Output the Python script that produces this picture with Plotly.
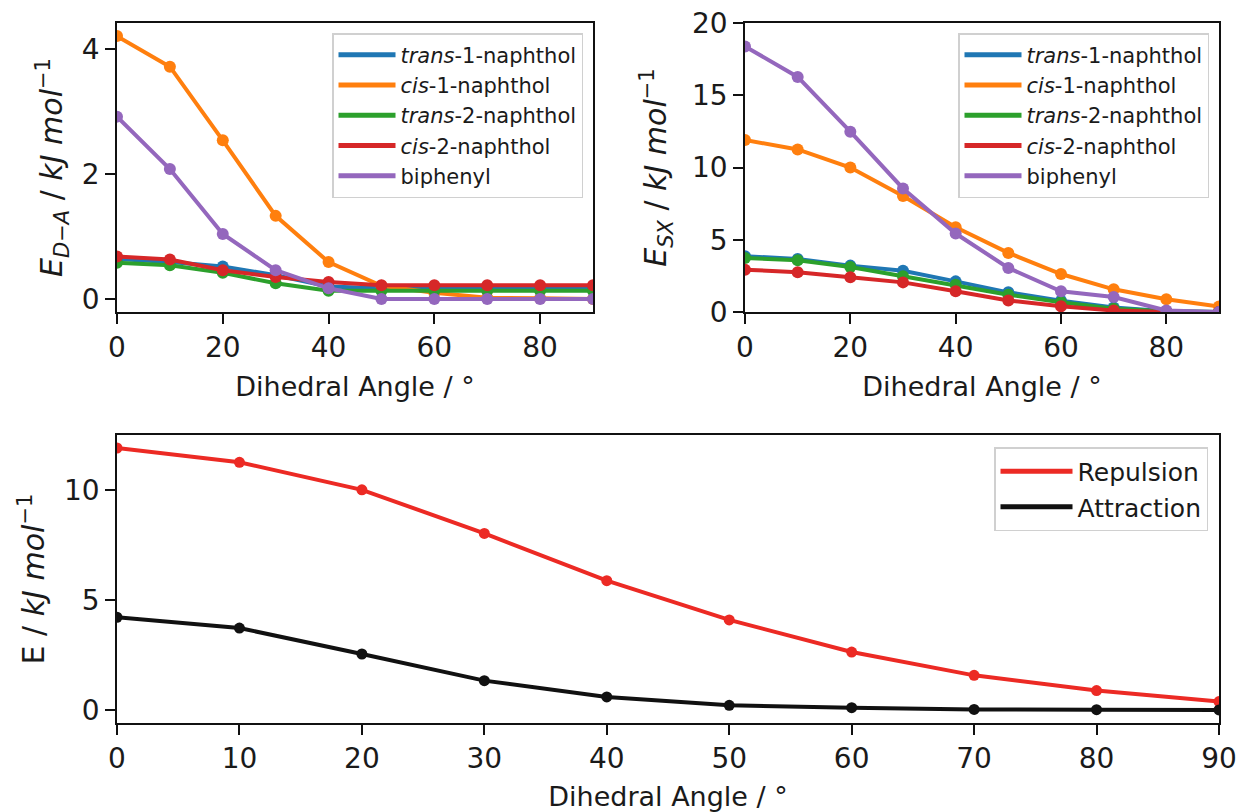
import plotly.graph_objects as go

# ---------------- data ----------------
angles = [0, 10, 20, 30, 40, 50, 60, 70, 80, 90]

series_names = ["<i>trans</i>-1-naphthol", "<i>cis</i>-1-naphthol",
                "<i>trans</i>-2-naphthol", "<i>cis</i>-2-naphthol", "biphenyl"]
series_colors = ["#1f77b4", "#ff7f0e", "#2ca02c", "#d62728", "#9467bd"]

# E_D-A (kJ/mol)
trans1_da = [0.64, 0.59, 0.52, 0.38, 0.20, 0.17, 0.17, 0.17, 0.17, 0.17]
cis1_da = [4.21, 3.72, 2.54, 1.33, 0.59, 0.21, 0.10, 0.02, 0.01, 0.00]
trans2_da = [0.58, 0.54, 0.42, 0.25, 0.13, 0.13, 0.13, 0.13, 0.13, 0.13]
cis2_da = [0.68, 0.63, 0.46, 0.35, 0.27, 0.22, 0.22, 0.22, 0.22, 0.22]
biphenyl_da = [2.92, 2.08, 1.04, 0.46, 0.17, 0.00, 0.00, 0.00, 0.00, 0.00]

# E_SX (kJ/mol)
trans1_sx = [3.86, 3.67, 3.21, 2.86, 2.12, 1.36, 0.78, 0.32, 0.05, 0.00]
cis1_sx = [11.90, 11.25, 10.00, 8.02, 5.87, 4.09, 2.63, 1.57, 0.88, 0.38]
trans2_sx = [3.74, 3.58, 3.12, 2.47, 1.89, 1.20, 0.67, 0.22, 0.05, 0.00]
cis2_sx = [2.93, 2.75, 2.40, 2.05, 1.43, 0.80, 0.39, 0.10, 0.00, 0.00]
biphenyl_sx = [18.38, 16.27, 12.48, 8.55, 5.43, 3.05, 1.43, 1.04, 0.10, 0.00]

# bottom panel (cis-1-naphthol decomposition)
repulsion = cis1_sx
attraction = cis1_da

da_series = [trans1_da, cis1_da, trans2_da, cis2_da, biphenyl_da]
sx_series = [trans1_sx, cis1_sx, trans2_sx, cis2_sx, biphenyl_sx]

# ---------------- figure ----------------
fig = go.Figure()


def add_series(xs, ys, name, col, xa, ya, leg, lw, ms):
    fig.add_trace(go.Scatter(x=xs, y=ys, mode="lines+markers", name=name,
                             line=dict(color=col, width=lw),
                             marker=dict(color=col, size=ms),
                             xaxis=xa, yaxis=ya, showlegend=False))
    # legend entry (line only, like matplotlib)
    fig.add_trace(go.Scatter(x=[None], y=[None], mode="lines", name=name,
                             line=dict(color=col, width=lw + 1),
                             xaxis=xa, yaxis=ya, legend=leg,
                             legendgroup=leg + name, showlegend=True))


for name, ys, col in zip(series_names, da_series, series_colors):
    add_series(angles, ys, name, col, "x", "y", "legend", 4, 12)
for name, ys, col in zip(series_names, sx_series, series_colors):
    add_series(angles, ys, name, col, "x2", "y2", "legend2", 4, 12)
add_series(angles, repulsion, "Repulsion", "#ec2a24", "x3", "y3", "legend3", 4, 11)
add_series(angles, attraction, "Attraction", "#111111", "x3", "y3", "legend3", 4, 11)

W, H = 1242, 812
TXT = "#1a1a1a"


def px_x(a, b):
    return [a / W, b / W]


def px_y(top, bottom):
    return [1 - bottom / H, 1 - top / H]


common_axis = dict(showline=True, mirror=True, linecolor="#111111", linewidth=1.6,
                   ticks="outside", ticklen=10, tickwidth=1.6, tickcolor="#111111",
                   showgrid=False, zeroline=False, automargin=False,
                   ticklabeloverflow="allow",
                   tickfont=dict(size=28, color=TXT))
xtitle = dict(text="Dihedral Angle / °", font=dict(size=27, color=TXT), standoff=14)

legend_common = dict(xanchor="right", yanchor="top", bgcolor="rgba(255,255,255,0.9)",
                     bordercolor="#d0d0d0", borderwidth=1.5, tracegroupgap=0)

YT = 30

fig.update_layout(
    width=W, height=H, margin=dict(l=0, r=0, t=0, b=0, autoexpand=False),
    paper_bgcolor="white", plot_bgcolor="white",
    font=dict(family="DejaVu Sans", color=TXT),
    xaxis=dict(domain=px_x(117, 593), range=[0, 90], tickvals=[0, 20, 40, 60, 80],
               anchor="y", title=xtitle, **common_axis),
    yaxis=dict(domain=px_y(23, 312), range=[-0.21, 4.42], tickvals=[0, 2, 4],
               anchor="x",
               title=dict(text="<i>E</i><sub><i>D</i>−<i>A</i></sub> / <i>kJ mol</i><sup>−1</sup>",
                          font=dict(size=YT, color=TXT), standoff=10),
               **common_axis),
    xaxis2=dict(domain=px_x(745, 1219), range=[0, 90], tickvals=[0, 20, 40, 60, 80],
                anchor="y2", title=xtitle, **common_axis),
    yaxis2=dict(domain=px_y(23, 312), range=[0, 20], tickvals=[0, 5, 10, 15, 20],
                anchor="x2",
                title=dict(text="<i>E</i><sub><i>SX</i></sub> / <i>kJ mol</i><sup>−1</sup>",
                           font=dict(size=YT, color=TXT), standoff=16),
                **common_axis),
    xaxis3=dict(domain=px_x(117, 1219), range=[0, 90],
                tickvals=[0, 10, 20, 30, 40, 50, 60, 70, 80, 90],
                anchor="y3", title=xtitle, **common_axis),
    yaxis3=dict(domain=px_y(435, 723), range=[-0.595, 12.49], tickvals=[0, 5, 10],
                anchor="x3",
                title=dict(text="E / <i>kJ mol</i><sup>−1</sup>",
                           font=dict(size=YT, color=TXT), standoff=10),
                **common_axis),
    legend=dict(x=583 / W, y=1 - 33 / H, font=dict(size=21, color=TXT), itemwidth=57,
                **legend_common),
    legend2=dict(x=1209 / W, y=1 - 33 / H, font=dict(size=21, color=TXT), itemwidth=57,
                 **legend_common),
    legend3=dict(x=1208 / W, y=1 - 447 / H, font=dict(size=25, color=TXT), itemwidth=72,
                 **legend_common),
)

fig.write_html("out.html")
